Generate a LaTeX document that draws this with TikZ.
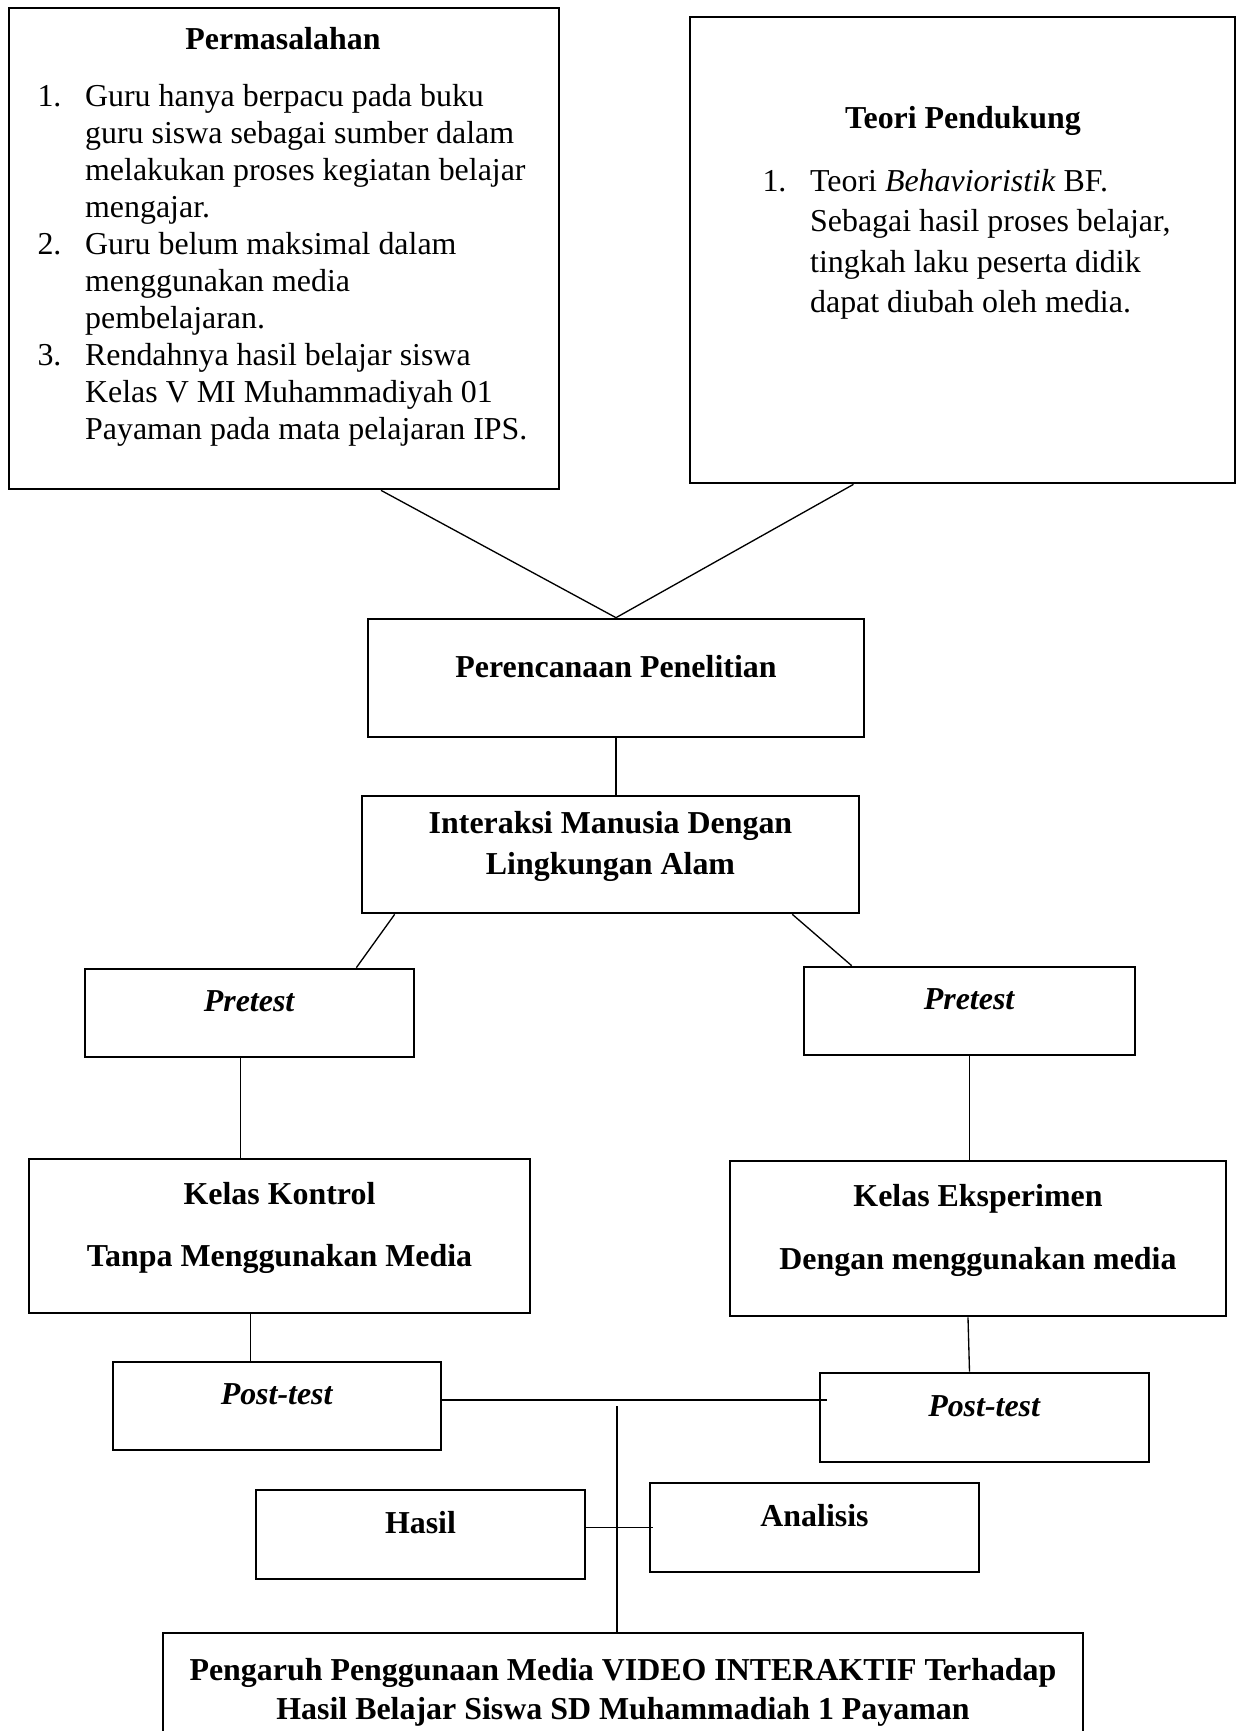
\documentclass[tikz,border=0pt]{standalone}
\usepackage{fontspec}
\setmainfont{Liberation Serif}
\usetikzlibrary{calc}

\def\pxu{0.376pt}
\newcommand\listnum[1]{\makebox[17.9pt][l]{#1}}
\newcommand\listind{\hspace*{17.9pt}}

\tikzset{
  box/.style 2 args={draw, line width=1pt, minimum width=#1*\pxu, minimum height=#2*\pxu,
    inner sep=0pt, align=center, text depth=8.8pt,
    font=\fontsize{12}{14.7}\selectfont\bfseries},
  heading/.style={anchor=base, inner sep=0pt, font=\fontsize{12}{14}\selectfont\bfseries},
  listtext/.style={anchor=north west, inner sep=0pt, align=left, font=\fontsize{12}{13.9}\selectfont},
  link/.style={line width=0.5pt},
}

\begin{document}
\begin{tikzpicture}[x=\pxu, y=-\pxu]
            \useasboundingbox (0,0) rectangle (1241,1731);

            % Drawing box Permasalahan
            \node [box={550}{481}] (masalah) at (284,248.5) {};
            \node [heading] (masalahjudul) at (283,49) {Permasalahan};
            \node [listtext] (masalahisi) at (37,84) {\listnum{1.}Guru hanya berpacu pada buku\\
              \listind guru siswa sebagai sumber dalam\\
              \listind melakukan proses kegiatan belajar\\
              \listind mengajar.\\
              \listnum{2.}Guru belum maksimal dalam\\
              \listind menggunakan media\\
              \listind pembelajaran.\\
              \listnum{3.}Rendahnya hasil belajar siswa\\
              \listind Kelas V MI Muhammadiyah 01\\
              \listind Payaman pada mata pelajaran IPS.};

            % Drawing box Teori Pendukung
            \node [box={545}{466}] (teori) at (962.5,250) {};
            \node [heading] (teorijudul) at (963,128) {Teori Pendukung};
            \node [listtext, font=\fontsize{12}{15.1}\selectfont] (teoriisi) at (762,169) {\listnum{1.}Teori \textit{Behavioristik} BF.\\
              \listind Sebagai hasil proses belajar,\\
              \listind tingkah laku peserta didik\\
              \listind dapat diubah oleh media.};

            % Drawing the boxes of the flow
            \node [box={496}{118}] (plan) at (616,678) {Perencanaan Penelitian};
            \node [box={497}{117}] (interaksi) at (610.5,854.5) {Interaksi Manusia Dengan\\[0.8pt]Lingkungan Alam};
            \node [box={329}{88}] (preL) at (249.5,1013) {\textit{Pretest}};
            \node [box={331}{88}] (preR) at (969.5,1011) {\textit{Pretest}};
            \node [box={501}{154}] (kontrol) at (279.5,1236) {Kelas Kontrol\\[8.4pt]Tanpa Menggunakan Media};
            \node [box={496}{155}] (eksp) at (978,1238.5) {Kelas Eksperimen\\[9pt]Dengan menggunakan media};
            \node [box={328}{88}] (postL) at (277,1406) {\textit{Post-test}};
            \node [box={329}{89}] (postR) at (984.5,1417.5) {\textit{Post-test}};
            \node [box={329}{89}] (hasil) at (420.5,1534.5) {Hasil};
            \node [box={329}{89}] (analisis) at (814.5,1527.5) {Analisis};
            \node [box={920}{136}] (final) at (623,1701) {Pengaruh Penggunaan Media VIDEO INTERAKTIF Terhadap\\Hasil Belajar Siswa SD Muhammadiah 1 Payaman};

            % Drawing segments to Perencanaan
            \draw [link] ($(masalah.south)+(97,0)$) -- (plan.north);
            \draw [link] ($(teori.south)+(-109,0)$) -- (plan.north);
            \draw [link] (plan.south) -- (plan.south |- interaksi.north);

            % Drawing segments to Pretest
            \draw [link] ($(interaksi.south west)+(34,0)$) -- ($(preL.north east)+(-59,0)$);
            \draw [link] ($(interaksi.south east)+(-68,0)$) -- ($(preR.north west)+(49,0)$);

            % Drawing segments to Kelas
            \coordinate (preLkaki) at ($(preL.south)+(-9,0)$);
            \draw [link] (preLkaki) -- (preLkaki |- kontrol.north);
            \draw [link] (preR.south) -- (preR.south |- eksp.north);

            % Drawing segments to Post-test
            \coordinate (kontrolkaki) at ($(kontrol.south)+(-29,0)$);
            \draw [link] (kontrolkaki) -- (kontrolkaki |- postL.north);
            \draw [link] ($(eksp.south)+(-10,0)$) -- ($(postR.north)+(-15,0)$);
            \draw [link] ($(postL.east)+(0,-6)$) -- ($(postR.west)+(8,-17.5)$);

            % Drawing segments Hasil Analisis
            \coordinate (tengah) at (617,1406);
            \draw [link] (tengah) -- (tengah |- final.north);
            \draw [link] (hasil.east |- analisis.west) -- ($(analisis.west)+(4,0)$);
\end{tikzpicture}
\end{document}
